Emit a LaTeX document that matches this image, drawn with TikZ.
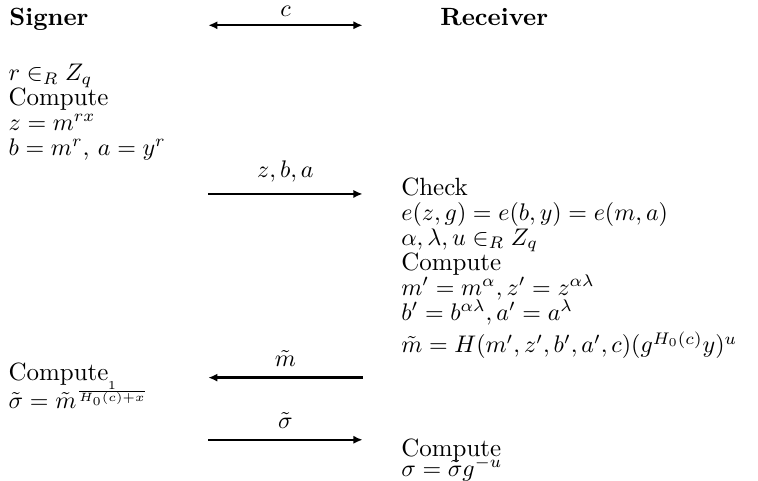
\documentclass[tikz,border=0pt]{standalone}
\usetikzlibrary{arrows.meta}
\newcommand\sigfont{\fontsize{10.4}{10.4}\selectfont\lineskiplimit=-10pt}
\begin{document}
\begin{tikzpicture}[font=\sigfont,
    >={Latex[length=3.8pt,width=3.4pt]},
    party/.style={inner sep=0pt, anchor=base west, font=\sigfont\bfseries},
    calc/.style ={inner sep=0pt, anchor=north west, align=left},
    msg/.style  ={line width=1pt, ->},
    lbl/.style  ={above=1pt},
  ]
  \useasboundingbox (0,0) rectangle (11.10,-7.03);

  % parties
  \node[party] (signer) at (0.13,-0.37) {Signer};
  \node[party] (receiver) at (6.44,-0.37) {Receiver};

  % ends of the message arrows
  \coordinate (cL) at (3.05,-0.37);  \coordinate (cR) at (5.31,-0.37);
  \coordinate (zL) at (3.05,-2.84);  \coordinate (zR) at (5.31,-2.84);
  \coordinate (mL) at (3.05,-5.53);  \coordinate (mR) at (5.31,-5.53);
  \coordinate (sL) at (3.05,-6.44);  \coordinate (sR) at (5.31,-6.44);

  % signer, first round
  \node[calc] (s1) at (0.12,-0.93)
    {$r \in_R Z_q$\\ Compute\\ $z = m^{rx}$\\ $b = m^r$, $a = y^r$};
  \draw[msg, <->] (cL) -- node[lbl, above=-1pt] {$c$} (cR);
  \draw[msg] (zL) -- node[lbl] {$z, b, a$} (zR);

  % receiver, blinding
  \node[calc] (r1) at (5.87,-2.595)
    {Check\\ $e(z,g) = e(b,y) = e(m,a)$\\ $\alpha, \lambda, u \in_R Z_q$\\ Compute\\
     $m' = m^{\alpha}, z' = z^{\alpha\lambda}$\\ $b' = b^{\alpha\lambda}, a' = a^{\lambda}$};
  \node[inner sep=0pt, anchor=base west] (r2) at (5.87,-5.165)
    {$\tilde{m} = H(m', z', b', a', c)(g^{H_0(c)}y)^u$};
  \draw[msg] (mR) -- node[lbl] {$\tilde{m}$} (mL);

  % signer, signing
  \node[calc] (s2) at (0.12,-5.31)
    {Compute\\[1pt] $\tilde{\sigma} = \tilde{m}^{\frac{1}{H_0(c)+x}}$};
  \draw[msg] (sL) -- node[lbl] {$\tilde{\sigma}$} (sR);

  % receiver, unblinding
  \node[calc] (r3) at (5.87,-6.42)
    {Compute\\[-2pt] $\sigma = \tilde{\sigma} g^{-u}$};
\end{tikzpicture}
\end{document}
